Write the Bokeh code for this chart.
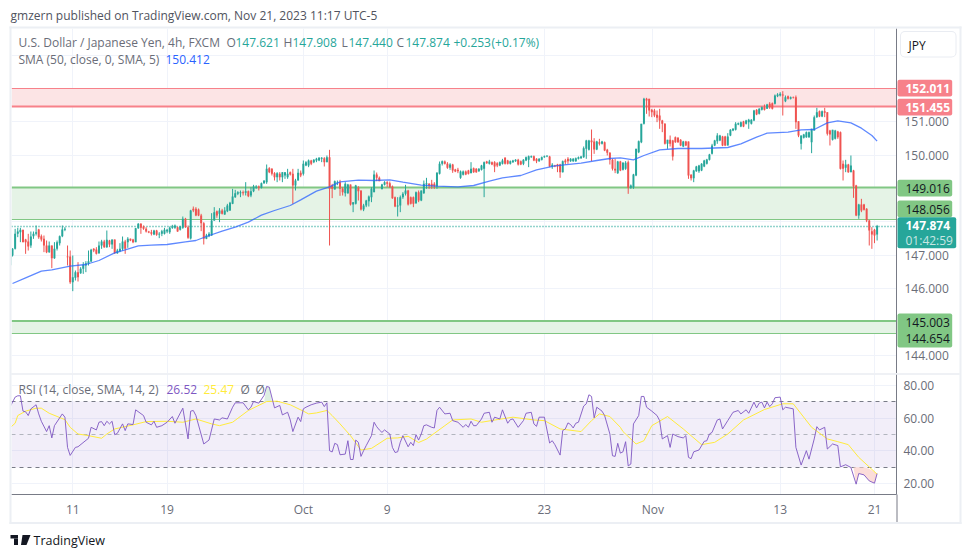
from bokeh.embed import file_html
from bokeh.layouts import column
from bokeh.models import BoxAnnotation, ColumnDataSource, FixedTicker, Label, PolyAnnotation, Range1d
from bokeh.plotting import figure
from bokeh.resources import INLINE

# candles (4h bars)
opens = [
    146.70,146.99,147.19,147.64,147.69,147.76,147.47,147.41,147.29,147.57,
    147.64,147.77,147.57,147.49,147.29,147.09,147.29,146.91,147.19,147.36,
    147.57,147.76,146.96,146.96,146.19,146.32,146.49,146.46,146.59,146.69,
    146.74,146.81,147.19,147.17,147.06,147.29,147.41,147.24,147.44,147.32,
    147.47,147.06,147.12,147.19,147.41,147.39,147.49,147.47,147.39,147.81,
    147.94,147.86,147.79,147.71,147.69,147.62,147.74,147.62,147.64,147.64,
    147.71,147.69,147.82,147.82,147.84,147.76,147.82,148.09,147.84,147.50,
    148.39,148.39,148.37,148.19,147.96,147.49,147.57,147.59,148.04,148.32,
    148.24,148.34,148.22,148.32,148.34,148.54,148.74,148.84,148.86,148.89,
    148.87,148.92,148.79,148.92,149.02,149.06,149.02,149.16,149.19,149.61,
    149.59,149.46,149.34,149.44,149.34,149.39,149.34,149.49,149.44,149.09,
    149.24,149.47,149.44,149.69,149.69,149.84,149.79,149.84,149.84,149.89,
    149.91,149.79,149.94,149.09,148.97,149.17,149.19,148.99,148.86,148.86,
    149.12,148.52,148.54,149.02,148.94,148.37,148.49,148.62,148.74,148.89,
    149.42,149.32,148.98,149.11,149.19,149.16,149.06,148.74,148.46,148.49,
    148.74,148.84,148.94,148.74,148.74,148.56,148.89,148.64,148.86,149.12,
    149.14,149.14,149.14,149.06,149.44,149.74,149.81,149.74,149.62,149.72,
    149.57,149.56,149.32,149.41,149.51,149.54,149.46,149.61,149.59,149.52,
    149.56,149.59,149.81,149.74,149.79,149.79,149.76,149.69,149.74,149.92,
    149.84,149.74,149.79,149.82,149.86,149.82,149.74,149.84,149.86,149.94,
    149.97,149.89,149.82,149.86,149.94,149.96,149.96,149.66,149.69,149.72,
    149.72,149.49,149.84,149.89,149.82,149.82,149.82,149.89,149.91,149.94,
    150.19,150.16,150.44,150.41,150.17,150.39,150.34,150.39,150.16,150.07,
    149.86,149.59,149.46,149.81,149.56,149.59,149.79,149.02,149.04,149.39,
    150.09,150.39,150.94,151.69,151.69,151.36,151.34,151.21,151.19,151.04,
    150.94,150.34,150.46,150.44,150.54,150.52,150.46,150.26,150.41,150.41,
    149.41,149.31,149.52,149.52,149.54,149.66,149.74,149.86,150.04,150.29,
    150.42,150.44,150.56,150.56,150.29,150.59,150.74,150.76,150.92,150.86,
    151.01,150.94,150.99,150.94,151.04,151.36,151.24,151.36,151.44,151.39,
    151.54,151.56,151.54,151.77,151.79,151.82,151.62,151.77,151.69,151.74,
    151.74,151.02,150.34,150.52,150.54,150.54,150.39,150.74,151.14,151.32,
    151.16,151.32,151.29,150.74,150.46,150.49,150.71,150.69,149.74,149.62,
    149.72,149.49,149.54,149.09,148.19,148.52,148.52,148.39,148.04,147.72,
    147.76,147.621,
]
closes = [
    146.99,147.19,147.64,147.71,147.76,147.39,147.39,147.26,147.56,147.64,
    147.69,147.54,147.47,147.29,147.09,147.29,146.91,147.19,147.39,147.57,
    147.77,147.79,146.94,146.19,146.34,146.49,146.34,146.59,146.71,146.76,
    146.82,147.16,147.14,147.04,147.29,147.41,147.24,147.46,147.32,147.47,
    147.06,147.14,147.19,147.41,147.19,147.49,147.44,147.39,147.81,147.94,
    147.82,147.79,147.71,147.68,147.64,147.74,147.61,147.64,147.72,147.76,
    147.76,147.82,147.86,147.89,147.71,147.86,148.09,147.84,147.52,148.34,
    148.34,148.19,148.19,147.96,147.49,147.59,147.64,148.04,148.29,148.19,
    148.34,148.24,148.34,148.49,148.57,148.76,148.86,148.89,148.89,148.86,
    148.92,148.77,148.92,149.06,149.06,149.02,149.16,149.24,149.59,149.49,
    149.44,149.34,149.46,149.34,149.49,149.49,149.44,149.42,149.09,149.24,
    149.47,149.39,149.74,149.79,149.84,149.74,149.86,149.89,149.92,149.92,
    149.79,149.94,148.99,148.99,149.22,149.19,148.99,148.89,149.14,149.12,
    148.52,148.59,149.09,148.92,148.37,148.49,148.64,148.76,148.99,149.42,
    149.32,149.22,149.12,149.19,149.14,149.04,148.71,148.46,148.49,148.74,
    148.84,148.94,148.52,148.54,148.54,148.89,148.64,148.94,149.14,149.16,
    149.09,149.06,149.06,149.47,149.74,149.82,149.74,149.62,149.72,149.54,
    149.51,149.52,149.51,149.51,149.42,149.44,149.59,149.49,149.49,149.59,
    149.69,149.79,149.76,149.81,149.72,149.66,149.69,149.79,149.84,149.74,
    149.74,149.82,149.84,149.86,149.72,149.72,149.86,149.94,149.97,149.97,
    149.84,149.82,149.89,149.94,149.97,149.98,149.66,149.71,149.66,149.66,
    149.49,149.82,149.79,149.82,149.89,149.89,149.91,149.94,149.96,150.21,
    150.44,150.44,150.39,150.17,150.41,150.34,150.41,150.14,150.07,149.86,
    149.59,149.54,149.81,149.54,149.77,149.77,149.02,149.09,149.42,150.19,
    150.42,150.94,151.69,151.64,151.34,151.29,151.19,151.12,151.04,150.94,
    150.34,150.46,150.34,149.96,150.39,150.39,150.29,150.41,150.29,149.39,
    149.31,149.54,149.66,149.69,149.74,149.84,149.87,150.02,150.29,150.44,
    150.59,150.59,150.29,150.29,150.56,150.76,150.79,150.94,150.96,150.99,
    150.86,151.04,151.06,151.06,151.34,151.22,151.39,151.44,151.36,151.52,
    151.44,151.39,151.79,151.82,151.84,151.79,151.74,151.69,151.74,151.72,
    150.99,150.59,150.59,150.62,150.69,150.69,150.79,151.14,151.29,151.16,
    151.32,151.27,150.64,150.62,150.76,150.74,150.54,149.59,149.59,149.72,
    149.49,149.69,149.06,148.19,148.52,148.34,148.36,148.04,147.74,147.62,
    147.59,147.874,
]
highs = [
    147.00,147.21,147.79,147.82,147.82,147.76,147.49,147.64,147.71,147.71,
    147.89,147.79,147.62,147.59,147.44,147.41,147.29,147.39,147.44,147.59,
    147.89,147.84,147.29,147.14,146.99,146.54,146.79,146.64,146.79,146.82,
    147.14,147.19,147.21,147.24,147.41,147.46,147.46,147.74,147.46,147.47,
    147.47,147.19,147.36,147.56,147.46,147.54,147.50,147.49,147.82,147.96,
    147.96,147.89,147.84,147.73,147.76,147.76,147.76,147.69,147.76,147.82,
    147.79,147.86,147.91,147.92,147.86,147.88,148.16,148.12,147.89,148.36,
    148.46,148.44,148.40,148.24,147.99,147.64,147.69,148.26,148.44,148.34,
    148.41,148.39,148.44,148.54,148.60,148.99,148.96,148.92,148.94,148.94,
    149.19,148.94,149.04,149.11,149.10,149.09,149.18,149.24,149.72,149.64,
    149.61,149.49,149.49,149.49,149.49,149.49,149.59,149.51,149.59,149.29,
    149.59,149.54,149.84,149.82,149.87,149.86,149.88,149.92,149.94,149.94,
    149.94,149.99,150.16,149.14,149.24,149.24,149.26,149.04,149.19,149.14,
    149.12,148.59,149.11,149.07,148.94,148.54,148.66,148.79,149.04,149.54,
    149.48,149.36,149.14,149.22,149.22,149.21,149.09,148.76,148.74,148.79,
    148.89,149.11,148.96,148.76,148.76,148.91,148.94,148.94,149.24,149.32,
    149.16,149.26,149.19,149.49,149.81,149.84,149.84,149.79,149.76,149.74,
    149.59,149.62,149.54,149.54,149.54,149.56,149.79,149.63,149.61,149.61,
    149.71,149.81,149.83,149.86,149.81,149.82,149.79,149.81,149.89,149.94,
    149.86,149.84,149.86,149.88,149.89,149.84,149.88,149.96,149.99,149.99,
    149.99,149.91,149.91,149.96,149.99,150.00,149.98,149.76,149.71,149.74,
    149.74,149.84,149.89,149.94,149.91,149.91,149.93,149.96,149.98,150.26,
    150.46,150.46,150.77,150.51,150.43,150.49,150.43,150.41,150.19,150.09,
    149.89,149.89,149.83,149.83,149.79,149.82,149.84,149.12,149.44,150.19,
    150.44,150.94,151.72,151.72,151.69,151.39,151.39,151.34,151.39,151.06,
    150.96,150.46,150.59,150.46,150.56,150.54,150.48,150.43,150.43,150.41,
    149.43,149.56,149.68,149.71,149.76,149.86,149.89,150.04,150.34,150.46,
    150.66,150.61,150.58,150.58,150.66,150.78,150.81,150.99,150.98,151.01,
    151.03,151.06,151.09,151.08,151.36,151.38,151.41,151.46,151.52,151.54,
    151.59,151.58,151.82,151.86,151.89,151.92,151.79,151.79,151.76,151.76,
    151.79,151.02,150.59,150.64,150.71,150.71,150.79,151.19,151.42,151.34,
    151.34,151.42,151.29,150.76,150.76,150.76,150.73,150.71,149.84,149.86,
    149.74,149.99,149.56,149.11,148.54,148.69,148.54,148.41,148.06,147.84,
    147.79,147.908,
]
lows = [
    146.64,146.96,147.17,147.54,147.39,147.39,147.04,147.14,147.22,147.49,
    147.59,147.49,147.41,147.09,147.06,147.07,146.61,146.89,147.14,147.29,
    147.54,147.72,146.69,146.14,145.92,146.24,146.21,146.44,146.44,146.49,
    146.69,146.79,147.09,147.02,147.04,147.19,147.22,147.22,147.24,147.19,
    147.04,147.04,147.09,147.14,147.04,147.22,147.42,147.36,147.39,147.79,
    147.64,147.76,147.68,147.66,147.59,147.60,147.58,147.51,147.57,147.62,
    147.66,147.64,147.79,147.79,147.70,147.74,147.79,147.82,147.49,147.47,
    148.29,148.17,148.17,147.72,147.32,147.48,147.54,147.58,148.03,148.12,
    147.99,148.22,148.21,148.29,148.33,148.53,148.72,148.80,148.74,148.79,
    148.79,148.74,148.74,148.89,148.99,148.94,149.00,149.14,149.14,149.46,
    149.39,149.24,149.19,149.24,149.19,149.29,149.29,149.39,148.54,148.94,
    149.24,149.34,149.39,149.67,149.64,149.70,149.76,149.79,149.82,149.79,
    149.66,149.79,147.29,148.71,148.97,149.10,148.78,148.79,148.76,148.84,
    148.49,148.29,148.52,148.64,148.34,148.32,148.44,148.46,148.59,148.89,
    149.22,149.22,148.98,149.09,149.04,149.02,148.69,148.44,148.16,148.29,
    148.69,148.79,148.49,148.52,148.44,148.54,148.59,148.62,148.84,148.99,
    148.99,148.99,148.99,148.99,149.42,149.69,149.72,149.59,149.56,149.47,
    149.49,149.46,149.29,149.39,149.40,149.42,149.46,149.47,149.47,149.50,
    149.54,148.74,149.74,149.72,149.70,149.49,149.64,149.67,149.72,149.72,
    149.72,149.72,149.77,149.80,149.69,149.70,149.70,149.82,149.64,149.92,
    149.82,149.76,149.80,149.84,149.92,149.94,149.64,149.59,149.64,149.49,
    149.32,149.48,149.72,149.74,149.80,149.80,149.80,149.87,149.89,149.92,
    149.89,150.14,149.82,150.04,150.15,150.29,150.32,150.12,149.99,149.72,
    149.54,149.46,149.44,149.52,149.54,149.56,148.84,148.99,148.99,149.37,
    150.06,150.36,150.92,151.24,151.16,151.14,151.14,150.99,150.79,150.69,
    150.32,150.19,150.26,149.84,150.37,150.37,150.27,150.24,150.27,149.29,
    149.24,149.19,149.50,149.47,149.52,149.64,149.72,149.84,150.02,150.27,
    150.34,150.42,150.27,150.27,150.29,150.57,150.72,150.74,150.90,150.84,
    150.84,150.92,150.79,150.92,151.02,151.20,151.22,151.34,151.34,151.39,
    151.39,151.37,151.52,151.74,151.76,151.19,151.59,151.67,151.67,151.70,
    150.79,150.54,150.17,150.50,150.52,150.52,150.06,150.74,151.12,151.14,
    151.14,151.14,150.59,150.29,150.44,150.47,150.49,149.57,149.24,149.49,
    149.47,149.49,148.72,148.17,148.09,148.29,148.34,147.99,147.29,147.19,
    147.36,147.44,
]

sma_idx = [1,6,12,16,23,29,34,40,44,49,54,60,67,71,75,81,86,91,96,101,107,111,117,122,126,133,139,145,150,157,163,171,177,183,188,195,201,208,218,224,229,233,238,242,248,255,264,274,279,285,289,297,302,307,312,316,321,325,329,331]
sma_vals = [146.15,146.32,146.52,146.56,146.67,146.72,146.84,147.07,147.16,147.28,147.30,147.32,147.40,147.44,147.56,147.72,147.84,147.99,148.20,148.34,148.49,148.66,148.92,149.05,149.20,149.25,149.24,149.26,149.19,149.10,149.07,149.05,149.09,149.22,149.32,149.39,149.56,149.68,149.76,149.84,149.90,149.92,149.86,149.99,150.16,150.20,150.20,150.23,150.34,150.54,150.66,150.69,150.76,150.77,150.97,151.03,150.97,150.81,150.59,150.42]

rsi_idx = [0,2,3,4,5,6,7,8,10,11,12,14,15,16,17,20,21,22,23,25,26,30,31,33,34,35,36,37,38,39,40,41,43,44,45,47,48,51,52,54,55,56,58,60,62,63,66,68,69,70,71,74,76,78,80,81,83,85,86,89,91,92,93,95,97,98,99,101,103,104,106,107,108,110,111,112,113,115,117,119,120,121,122,123,
    124,125,126,128,129,130,131,132,133,134,135,136,138,139,140,141,142,143,145,146,147,148,149,150,152,153,154,155,156,157,158,159,161,162,163,164,166,168,169,171,173,174,175,176,177,178,180,181,183,184,185,187,188,190,191,192,194,196,197,199,200,201,202,204,206,207,208,210,211,212,213,214,215,216,217,219,220,221,222,223,224,226,227,229,230,231,232,233,
    234,235,236,237,238,240,241,242,243,245,247,248,249,251,252,253,255,257,258,259,260,261,263,265,266,267,268,270,271,272,274,276,278,279,281,282,284,285,286,287,288,289,290,291,292,294,295,296,299,300,302,304,305,307,308,309,311,312,314,316,317,319,321,323,324,326,328,330,331]
rsi_vals = [66.7,72.9,73.7,73.7,64.3,63.9,61.6,65.7,68.2,62.6,58.1,51.8,55.4,47.9,55.4,62.6,60.6,42.1,37.2,42.1,42.5,47.7,54.4,52.8,57.5,57.9,55.4,58.1,56.5,58.1,49.9,50.7,56.5,52.4,56.5,56.1,65.1,61.6,57.5,55.9,58.1,54.4,55.4,57.5,61.0,56.9,66.1,47.3,64.3,64.7,61.6,44.2,46.6,59.5,58.9,60.2,59.5,66.7,69.4,69.4,65.1,66.7,70.2,69.2,73.9,79.4,79.0,66.3,67.8,62.0,63.6,58.9,51.8,60.6,57.9,65.7,66.7,68.2,69.2,69.8,67.1,69.4,40.1,39.3,
    44.6,43.8,37.6,38.0,46.2,34.7,34.7,46.6,45.2,36.6,40.1,43.2,49.3,57.5,54.8,52.8,51.3,52.8,50.3,42.1,39.0,39.4,45.2,49.3,42.5,45.2,43.2,49.9,46.6,50.3,55.4,55.9,54.4,54.0,64.7,66.7,62.6,63.0,58.5,57.5,54.4,56.1,54.4,58.1,55.4,55.4,59.5,63.0,63.6,57.5,60.6,59.5,65.1,56.9,59.1,59.5,54.4,58.5,63.0,63.6,56.5,55.0,60.6,60.6,44.8,46.2,43.8,37.4,52.4,53.4,57.1,56.1,54.0,56.9,57.5,67.4,68.8,74.3,73.3,60.2,66.7,64.3,61.6,50.3,37.0,36.6,44.6,38.6,
    39.4,45.6,30.8,31.9,56.5,61.6,73.3,73.3,66.7,64.3,61.6,58.5,47.3,49.3,42.1,50.3,48.7,47.9,49.3,36.0,35.2,39.4,40.5,45.8,46.2,50.3,51.3,58.9,59.5,53.4,58.5,63.6,64.7,62.6,65.1,63.0,69.8,66.3,69.2,69.8,66.3,69.8,67.1,68.8,72.5,72.9,65.1,66.7,65.7,42.1,31.3,40.1,34.9,47.3,54.8,52.8,54.4,41.1,44.2,43.2,30.2,31.5,29.8,19.6,26.1,25.3,21.6,20.2,26.1]

rsi_ma_idx = [0,2,3,6,10,12,15,21,23,26,30,35,37,40,47,52,60,66,71,77,80,85,91,98,102,107,112,114,117,121,123,126,130,134,138,144,148,152,156,159,166,169,176,180,186,192,200,204,210,218,222,225,229,233,234,239,242,245,251,257,264,269,274,280,288,295,299,306,312,316,320,324,331]
rsi_ma_vals = [54.0,56.9,61.6,64.3,66.1,66.1,63.0,59.1,54.4,50.3,49.3,47.7,50.3,53.4,55.9,57.9,58.1,57.5,59.5,56.5,55.4,57.5,64.7,70.2,70.4,68.2,64.3,62.6,63.2,64.7,61.6,56.5,49.3,40.5,41.5,47.7,47.9,48.9,45.1,47.2,55.4,58.9,59.5,57.5,59.1,60.6,58.9,58.5,53.4,51.8,58.5,62.6,61.0,54.4,51.8,44.2,46.2,55.4,61.0,53.4,43.8,45.2,50.3,58.9,65.3,68.8,68.8,54.4,47.3,45.6,43.8,36.0,25.7]

over_idx = [97,98,99,100]
over_vals = [70.0,79.4,79.0,70.0]
under_idx = [322,323,324,326,328,330,331]
under_vals = [30.0,19.6,26.1,25.3,21.6,20.2,26.1]
under_tops = [30.0,30.0,30.0,30.0,29.0,27.0,25.7]

# support / resistance levels
red_band = (151.455, 152.011)
green_band = (148.056, 149.016)
low_band = (144.654, 145.003)
extra_level = 145.05
last_price = 147.874

price_ticks = [144, 145, 146, 147, 148, 149, 150, 151, 152, 153]
price_hidden = [145, 148, 149, 152, 153]
rsi_ticks = [20, 40, 60, 80]
time_ticks = [24, 60, 112, 144, 204, 245.4, 294, 330]
time_labels = ["11", "19", "Oct", "9", "23", "Nov", "13", "21"]

FONT = "Open Sans"
GREY = "#787b86"
TEXT = "#6a6d78"
UP = "#26a69a"
DOWN = "#ef5350"
RED_LINE = "#f7818a"
GREEN_LINE = "#81c784"
BORDER = "#eceff4"
GRID = "#f0f3fa"

WIDTH = 962
PAGE_H = 557


# price pane
p = figure(width=WIDTH, height=373, output_backend="svg", toolbar_location=None,
           x_range=Range1d(0.61, 338.4), y_range=Range1d(143.45, 153.80),
           x_axis_location=None, y_axis_location="right",
           min_border_left=11, min_border_right=66, min_border_top=28, min_border_bottom=0,
           background_fill_color="white", border_fill_color="white", outline_line_color=None)
p.yaxis.ticker = FixedTicker(ticks=price_ticks)
p.yaxis.major_label_overrides = {t: ("" if t in price_hidden else f"{t:.3f}") for t in price_ticks}
p.yaxis.major_tick_line_color = None
p.yaxis.minor_tick_line_color = None
p.yaxis.axis_line_color = GREY
p.yaxis.major_label_standoff = 2
p.yaxis.major_label_text_color = TEXT
p.yaxis.major_label_text_font = FONT
p.yaxis.major_label_text_font_size = "12px"
p.ygrid.grid_line_color = GRID
p.xgrid.ticker = FixedTicker(ticks=time_ticks)
p.xgrid.grid_line_color = GRID

p.hstrip(y0=[red_band[0]], y1=[red_band[1]], fill_color="#fce4e5", line_color=None)
p.hstrip(y0=[green_band[0], low_band[0]], y1=[green_band[1], low_band[1]], fill_color="#e5f3e6", line_color=None)
p.hspan(y=[red_band[0]], line_color=RED_LINE, line_width=2)
p.hspan(y=[red_band[1]], line_color=RED_LINE, line_width=1)
p.hspan(y=[green_band[1]], line_color=GREEN_LINE, line_width=2)
p.hspan(y=[green_band[0], low_band[0], low_band[1], extra_level], line_color=GREEN_LINE, line_width=1)
last_line = p.hspan(y=[last_price], line_color=UP, line_width=1.3)
last_line.glyph.line_dash = [1, 2]

idx = list(range(len(closes)))
colors = [UP if c >= o else DOWN for o, c in zip(opens, closes)]
src = ColumnDataSource(dict(x=idx, o=opens, h=highs, l=lows, c=closes, color=colors))
p.segment("x", "h", "x", "l", color="color", line_width=1, source=src)
p.vbar("x", 0.75, "o", "c", fill_color="color", line_color=None, source=src)
p.line(sma_idx, sma_vals, line_color="#2962ff", line_width=1.3, line_alpha=0.75)

# RSI pane
r = figure(width=WIDTH, height=184, output_backend="svg", toolbar_location=None,
           x_range=p.x_range, y_range=Range1d(13.27, 86.73), y_axis_location="right",
           min_border_left=11, min_border_right=66, min_border_top=1, min_border_bottom=63,
           background_fill_color="white", border_fill_color="white", outline_line_color=None)
r.yaxis.ticker = FixedTicker(ticks=rsi_ticks)
r.yaxis.major_label_overrides = {t: f"{t:.2f}" for t in rsi_ticks}
r.yaxis.major_tick_line_color = None
r.yaxis.minor_tick_line_color = None
r.yaxis.axis_line_color = GREY
r.yaxis.major_label_standoff = 1
r.yaxis.major_label_text_color = TEXT
r.yaxis.major_label_text_font = FONT
r.yaxis.major_label_text_font_size = "12px"
r.xaxis.ticker = FixedTicker(ticks=time_ticks)
r.xaxis.major_label_overrides = dict(zip(time_ticks, time_labels))
r.xaxis.major_tick_line_color = None
r.xaxis.minor_tick_line_color = None
r.xaxis.axis_line_color = GREY
r.xaxis.major_label_standoff = 0
r.xaxis.major_label_text_color = TEXT
r.xaxis.major_label_text_font = FONT
r.xaxis.major_label_text_font_size = "12px"
r.xgrid.grid_line_color = GRID
r.ygrid.grid_line_color = GRID

r.hstrip(y0=[30], y1=[70], fill_color="#7e57c2", fill_alpha=0.1, line_color=None)
band_hi = r.hspan(y=[70, 30], line_color=GREY, line_width=1)
band_hi.glyph.line_dash = [4, 4]
band_mid = r.hspan(y=[50], line_color="#b2b5be", line_width=1)
band_mid.glyph.line_dash = [4, 4]
r.varea(over_idx, [70] * len(over_idx), over_vals, fill_color="#cfe8d6", fill_alpha=0.7)
r.varea(under_idx, under_vals, under_tops, fill_color="#fbd5cf", fill_alpha=0.8)
r.line(rsi_ma_idx, rsi_ma_vals, line_color="#ffeb3b", line_width=1)
r.line(rsi_idx, rsi_vals, line_color="#7e57c2", line_width=1, line_alpha=0.9)

# transparent sheet over both panes: frame, tags, header and footer
sheet = figure(width=970, height=PAGE_H, output_backend="svg", toolbar_location=None,
               x_range=Range1d(0, 970), y_range=Range1d(0, PAGE_H),
               x_axis_location=None, y_axis_location=None,
               min_border=0, outline_line_color=None,
               background_fill_alpha=0, border_fill_alpha=0,
               styles={"position": "absolute", "left": "0px", "top": "0px", "z-index": "5", "pointer-events": "none"})
sheet.grid.visible = False


def box(l, r_, t, b, color, radius=0):
    sheet.add_layout(BoxAnnotation(left=l, right=r_, top=PAGE_H - t, bottom=PAGE_H - b,
                                   left_units="screen", right_units="screen", top_units="screen", bottom_units="screen",
                                   fill_color=color, fill_alpha=1, line_color=None, border_radius=radius))


def text(s, x, y, color=TEXT, size="12px", weight="normal"):
    sheet.add_layout(Label(x=x, y=PAGE_H - y, x_units="screen", y_units="screen", text=s,
                           text_color=color, text_font=FONT, text_font_size=size, text_font_style=weight,
                           text_baseline="middle"))


# right price scale tags
for t, b, right, col in [(79.3, 96, 951.7, RED_LINE), (98.3, 115, 951.7, RED_LINE),
                         (179.3, 196, 951.7, GREEN_LINE), (200, 216.7, 951.7, GREEN_LINE),
                         (216.7, 247.7, 955.7, UP), (313, 347, 951.7, GREEN_LINE)]:
    box(897, right, t, b, col, radius=2)
for s, y, col, w in [("152.011", 87.8, "white", "bold"), ("151.455", 106.8, "white", "bold"),
                     ("149.016", 187.8, "#131722", "normal"), ("148.056", 208.5, "#131722", "normal"),
                     ("147.874", 225, "white", "bold"), ("01:42:59", 239.5, "#c8e6e3", "normal"),
                     ("145.003", 321.7, "#131722", "normal"), ("144.654", 338.3, "#131722", "normal")]:
    text(s, 905, y, color=col, weight=w)

# JPY button
box(899.5, 956, 30.5, 57, "#e9ecf2", radius=5)
box(900.5, 955, 31.5, 56, "white", radius=4)
text("JPY", 908, 44.5, color="#131722")

# outer frame
box(9, 961, 26, 28, BORDER)
box(9, 11, 26, 523.5, BORDER)
box(959, 961, 26, 523.5, BORDER)
box(9, 961, 521.5, 523.5, BORDER)
box(11, 959, 373, 374, "#e0e3eb")
box(896, 897, 494, 521.5, GREY)

# header and legend
text("gmzern published on TradingView.com, Nov 21, 2023 11:17 UTC-5", 10, 15, color="#50535e")
text("U.S. Dollar / Japanese Yen, 4h, FXCM", 18, 42)
for s, x, col in [("O", 226, TEXT), ("147.621", 235, UP), ("H", 283, TEXT), ("147.908", 292, UP),
                  ("L", 341, TEXT), ("147.440", 348, UP), ("C", 396, TEXT), ("147.874", 405, UP),
                  ("+0.253", 453, UP), ("(+0.17%)", 491, UP)]:
    text(s, x, 42, color=col)
text("SMA (50, close, 0, SMA, 5)", 18, 59)
text("150.412", 165, 59, color="#2962ff")

text("RSI (14, close, SMA, 14, 2)", 18, 389)
text("26.52", 166, 389, color="#7e57c2")
text("25.47", 203, 389, color="#ffeb3b")
text("Ø", 240, 389)
text("Ø", 255, 389)

# footer logo
text("TradingView", 33, 539.5, color="#131722", size="12.5px")
box(10, 17.5, 534.5, 538, "#131722")
box(13.5, 17.5, 538, 544.5, "#131722")
sheet.add_layout(PolyAnnotation(xs=[22, 30, 26, 20.5], ys=[PAGE_H - 534.5] * 2 + [PAGE_H - 544.5] * 2,
                                xs_units="screen", ys_units="screen", fill_color="#131722", fill_alpha=1,
                                line_color=None))

open("out.html", "w").write(file_html([column(p, r, spacing=0), sheet], INLINE))
